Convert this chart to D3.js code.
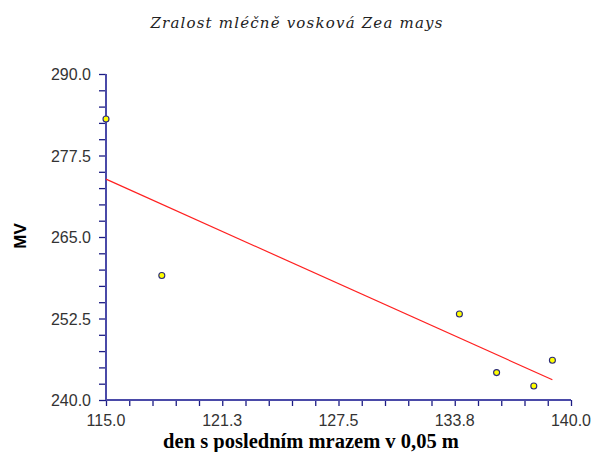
<!DOCTYPE html>
<html>
<head>
<meta charset="utf-8">
<script src="https://cdn.jsdelivr.net/npm/d3@7/dist/d3.min.js"></script>
<style>
  html, body { margin: 0; padding: 0; background: #fff; }
  svg { display: block; }
</style>
</head>
<body>
<svg id="chart" width="593" height="452"></svg>
<script>
// Observations: day of last frost at 0.05 m vs. MV
const days = [115.0, 118.0, 134.0, 136.0, 138.0, 139.0];
const mv = [283.1, 259.1, 253.2, 244.2, 242.15, 246.1];

// Axis ticks and their labels
const xTickValues = [115.0, 121.25, 127.5, 133.75, 140.0];
const xTickLabels = ["115.0", "121.3", "127.5", "133.8", "140.0"];
const yTickValues = [240.0, 252.5, 265.0, 277.5, 290.0];
const yTickLabels = ["240.0", "252.5", "265.0", "277.5", "290.0"];

const titleText = "Zralost mléčně vosková Zea mays";
const xTitle = "den s posledním mrazem v 0,05 m";
const yTitle = "MV";

const svg = d3.select("#chart");
const plotLeft = 106, plotRight = 571, plotTop = 74, plotBottom = 400;

const x = d3.scaleLinear().domain([115, 140]).range([plotLeft, plotRight]);
const y = d3.scaleLinear().domain([240, 290]).range([plotBottom, plotTop]);

const axisColor = "#4a4aa8";
const tickColor = "#1c1c84";

// Minor ticks every 1.25 on x, every 2.5 on y
const xMinor = d3.range(0, 21).map(i => 115 + i * 1.25);
const yMinor = d3.range(0, 21).map(i => 240 + i * 2.5);

const xAxis = d3.axisBottom(x).tickValues(xMinor).tickSize(6).tickFormat("");
const yAxis = d3.axisLeft(y).tickValues(yMinor).tickSize(7).tickFormat("");

const gx = svg.append("g").attr("transform", `translate(0,${plotBottom})`).call(xAxis);
const gy = svg.append("g").attr("transform", `translate(${plotLeft},0)`).call(yAxis);
[gx, gy].forEach(g => {
  g.select(".domain").remove();
  g.selectAll(".tick line").attr("stroke", tickColor).attr("stroke-width", 1.3);
});

// Axis lines
svg.append("line").attr("x1", plotLeft).attr("x2", plotLeft).attr("y1", plotTop).attr("y2", plotBottom)
  .attr("stroke", axisColor).attr("stroke-width", 2);
svg.append("line").attr("x1", plotLeft).attr("x2", plotRight).attr("y1", plotBottom).attr("y2", plotBottom)
  .attr("stroke", axisColor).attr("stroke-width", 2);

// Tick labels
svg.append("g").selectAll("text").data(xTickValues).join("text")
  .attr("x", d => x(d)).attr("y", 425.5)
  .attr("text-anchor", "middle")
  .attr("font-family", "Liberation Sans")
  .attr("font-size", 16).attr("fill", "#333")
  .text((d, i) => xTickLabels[i]);

svg.append("g").selectAll("text").data(yTickValues).join("text")
  .attr("x", 91).attr("y", d => y(d) + 6)
  .attr("text-anchor", "end")
  .attr("font-family", "Liberation Sans")
  .attr("font-size", 16).attr("fill", "#333")
  .text((d, i) => yTickLabels[i]);

// Least-squares regression line
const mx = d3.mean(days), my = d3.mean(mv);
const sxy = d3.sum(days, (d, i) => (d - mx) * (mv[i] - my));
const sxx = d3.sum(days, d => (d - mx) * (d - mx));
const slope = sxy / sxx, icpt = my - slope * mx;
const x0 = d3.min(days), x1 = d3.max(days);
svg.append("line")
  .attr("x1", x(x0)).attr("y1", y(icpt + slope * x0))
  .attr("x2", x(x1)).attr("y2", y(icpt + slope * x1))
  .attr("stroke", "#ff2020").attr("stroke-width", 1.2);

// Points
svg.append("g").selectAll("circle").data(days).join("circle")
  .attr("cx", d => x(d)).attr("cy", (d, i) => y(mv[i]))
  .attr("r", 3)
  .attr("fill", "#ffff00").attr("stroke", "#2a2a78").attr("stroke-width", 1.1);

// Chart title: spaced italic serif spanning ~292px
const title = svg.append("text").attr("x", 297).attr("y", 28)
  .attr("text-anchor", "middle")
  .attr("font-family", "DejaVu Serif").attr("font-style", "italic")
  .attr("font-size", 15).attr("fill", "#222")
  .text(titleText);
const tw = title.node().getComputedTextLength();
title.attr("letter-spacing", Math.max(0, (292 - tw) / (titleText.length - 1)));

// X axis title, sized to span ~296px
const xt = svg.append("text").attr("x", 311).attr("y", 447.5)
  .attr("text-anchor", "middle")
  .attr("font-family", "Liberation Serif").attr("font-weight", "bold")
  .attr("font-size", 19).attr("fill", "#000")
  .text(xTitle);
const xw = xt.node().getComputedTextLength();
xt.attr("font-size", 19 * 296 / xw);

svg.append("text")
  .attr("transform", "translate(26,236) rotate(-90)")
  .attr("text-anchor", "middle")
  .attr("font-family", "Liberation Sans").attr("font-weight", "bold")
  .attr("font-size", 17).attr("fill", "#000")
  .text(yTitle);
</script>
</body>
</html>
